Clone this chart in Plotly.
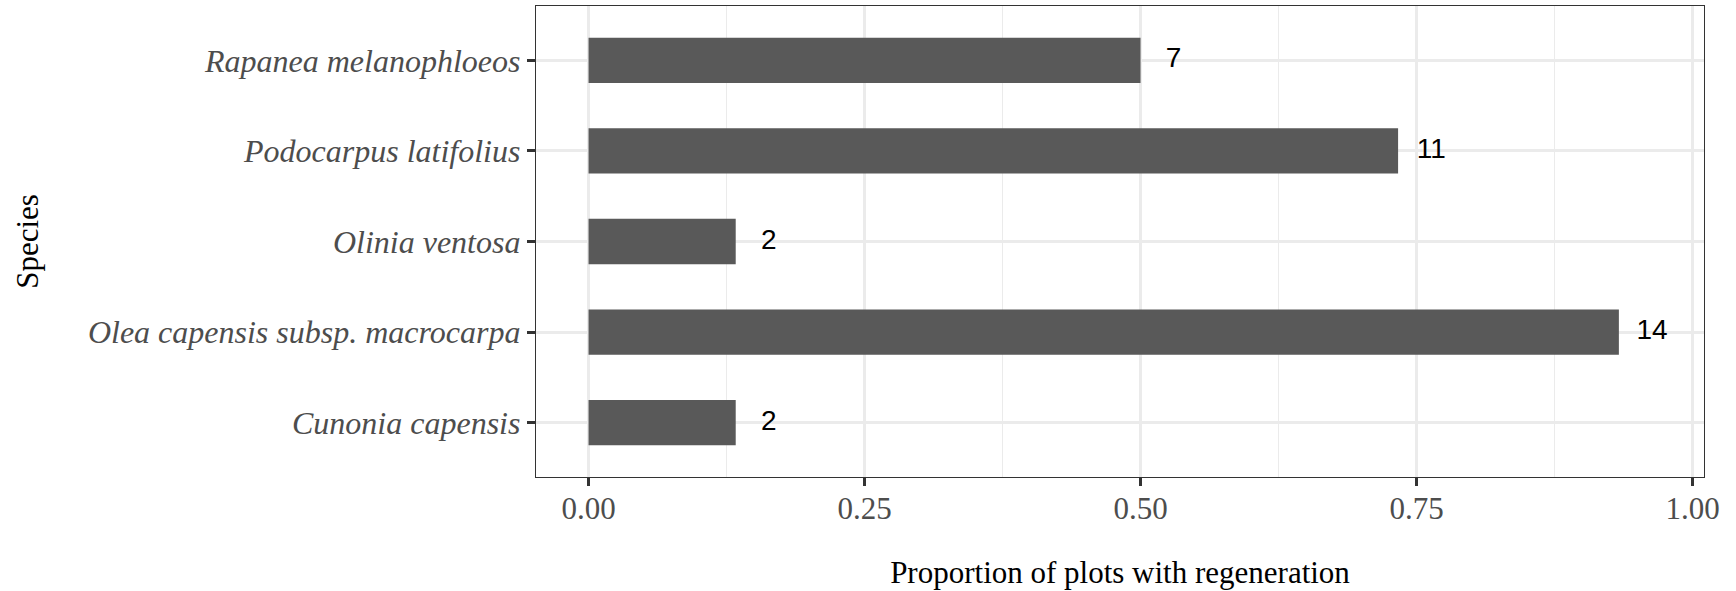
import plotly.graph_objects as go

species = ["Cunonia capensis", "Olea capensis subsp. macrocarpa", "Olinia ventosa",
           "Podocarpus latifolius", "Rapanea melanophloeos"]
proportion = [0.1333, 0.9333, 0.1333, 0.7333, 0.5]
counts = [2, 14, 2, 11, 7]
x_ticks = [0.0, 0.25, 0.5, 0.75, 1.0]
x_tick_labels = ["0.00", "0.25", "0.50", "0.75", "1.00"]
label_nudge = 0.03

serif = "Liberation Serif, Times New Roman, serif"

fig = go.Figure()
fig.add_trace(go.Bar(
    x=proportion, y=species, orientation="h", width=0.5,
    marker=dict(color="#595959", line=dict(width=0)),
    showlegend=False, hoverinfo="skip",
))
fig.add_trace(go.Scatter(
    x=[p + label_nudge for p in proportion], y=species, mode="text",
    text=[str(c) for c in counts], textposition="middle center",
    textfont=dict(family="Liberation Sans, Arial, sans-serif", size=28, color="#000000"),
    showlegend=False, hoverinfo="skip",
))

fig.update_layout(
    width=1736, height=591,
    margin=dict(l=536, r=32, t=6, b=114),
    paper_bgcolor="white", plot_bgcolor="white",
    bargap=0.5,
)
fig.update_xaxes(
    range=[-0.0476, 1.0104],
    tickvals=x_ticks, ticktext=x_tick_labels,
    tickfont=dict(family=serif, size=31, color="#4D4D4D"),
    ticks="outside", ticklen=8, tickwidth=2.5, tickcolor="#333333",
    ticklabelstandoff=-4,
    showgrid=True, gridcolor="#EBEBEB", gridwidth=2.5,
    minor=dict(tickvals=[0.125, 0.375, 0.625, 0.875], showgrid=True,
               gridcolor="#EBEBEB", gridwidth=1.3, ticks=""),
    showline=True, linecolor="#333333", linewidth=1.3, mirror=True,
    zeroline=False,
    title=dict(text="Proportion of plots with regeneration",
               font=dict(family=serif, size=31, color="#000000"), standoff=35),
)
fig.update_yaxes(
    type="category", categoryorder="array", categoryarray=species,
    range=[-0.6, 4.6],
    tickfont=dict(family=serif, size=32, color="#4D4D4D", style="italic"),
    ticks="outside", ticklen=8, tickwidth=2.5, tickcolor="#333333",
    showgrid=True, gridcolor="#EBEBEB", gridwidth=2.5,
    showline=True, linecolor="#333333", linewidth=1.3, mirror=True,
    zeroline=False,
    title=dict(text="Species", font=dict(family=serif, size=31, color="#000000"), standoff=40),
)

fig.write_html("out.html", config={"displayModeBar": False},
               post_script="document.body.style.margin='0';")
